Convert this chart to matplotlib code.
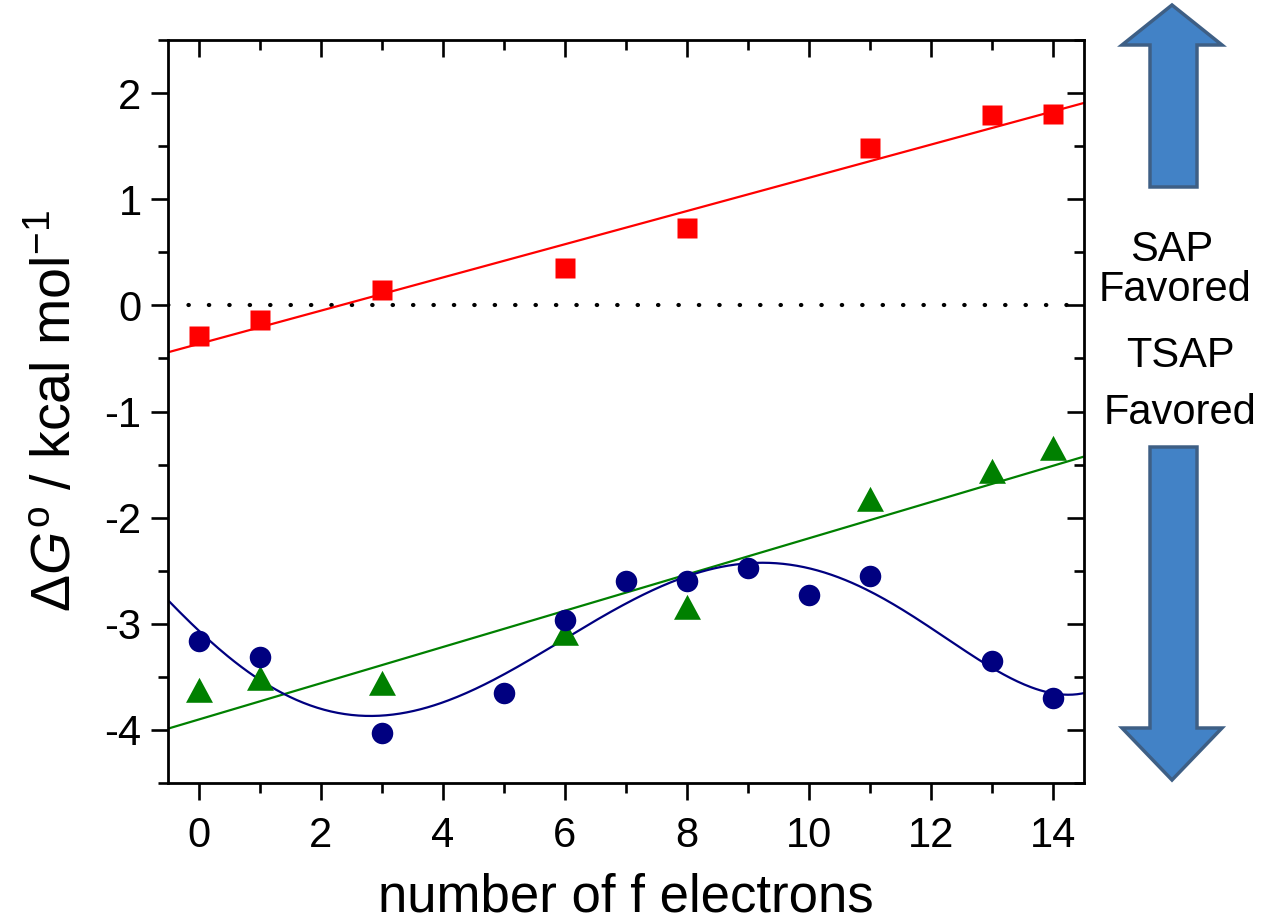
import numpy as np
import matplotlib.pyplot as plt
from matplotlib.patches import Polygon
from matplotlib.path import Path
from matplotlib.ticker import MultipleLocator

plt.rcParams['font.family'] = ['Liberation Sans', 'DejaVu Sans']
plt.rcParams['mathtext.fontset'] = 'custom'
plt.rcParams['mathtext.rm'] = 'Liberation Sans'
plt.rcParams['mathtext.it'] = 'Liberation Sans:italic'
plt.rcParams['axes.unicode_minus'] = False

# free energy difference vs. number of f electrons
x_red = [0, 1, 3, 6, 8, 11, 13, 14]
y_red = [-0.29, -0.14, 0.14, 0.35, 0.73, 1.48, 1.79, 1.80]
x_green = [0, 1, 3, 6, 8, 11, 13, 14]
y_green = [-3.66, -3.55, -3.60, -3.12, -2.88, -1.86, -1.60, -1.38]
x_blue = [0, 1, 3, 5, 6, 7, 8, 9, 10, 11, 13, 14]
y_blue = [-3.16, -3.31, -4.03, -3.65, -2.96, -2.60, -2.60, -2.47, -2.73, -2.55, -3.35, -3.70]

W, H = 1266, 923
fig = plt.figure(figsize=(W / 100, H / 100), dpi=100)
rect = [168 / W, 1 - 783 / H, (1084 - 168) / W, (783 - 40) / H]
ax = fig.add_axes(rect)

xx = np.linspace(-0.5, 14.5, 400)
# linear fits for red and green, 5th order polynomial for blue
ax.plot(xx, np.polyval(np.polyfit(x_red, y_red, 1), xx), color='#ff0000', lw=1.6)
ax.plot(xx, np.polyval(np.polyfit(x_green, y_green, 1), xx), color='#008000', lw=1.6)
ax.plot(xx, np.polyval(np.polyfit(x_blue, y_blue, 5), xx), color='#000080', lw=1.6)

ax.axhline(0, color='black', lw=3, linestyle=(0, (0.1, 4.8)), dash_capstyle='round', zorder=1)

# triangle centred on its centroid
tri = Path([(0, 16.7), (-13.5, -8.3), (13.5, -8.3), (0, 16.7)],
           [Path.MOVETO, Path.LINETO, Path.LINETO, Path.CLOSEPOLY])

ax.plot(x_red, y_red, 's', color='#ff0000', ms=14.5, mec='none')
ax.plot(x_green, y_green, marker=tri, ls='none', color='#008000', ms=24, mec='none')
ax.plot(x_blue, y_blue, 'o', color='#000080', ms=15.5, mec='none')

ax.set_xlim(-0.5, 14.5)
ax.set_ylim(-4.5, 2.5)
ax.xaxis.set_major_locator(MultipleLocator(2))
ax.xaxis.set_minor_locator(MultipleLocator(1))
ax.yaxis.set_major_locator(MultipleLocator(1))
ax.yaxis.set_minor_locator(MultipleLocator(0.5))
ax.set_yticks([-4, -3, -2, -1, 0, 1, 2])

for s in ax.spines.values():
    s.set_linewidth(2)
ax.tick_params(which='both', direction='out', width=1.9, labelsize=30,
               top=False, right=False)
ax.tick_params(axis='x', pad=12)
ax.tick_params(axis='y', pad=7)
ax.tick_params(which='major', length=12)
ax.tick_params(which='minor', length=7)

# inward ticks along top and right on an overlay axes
ov = fig.add_axes(rect, sharex=ax, sharey=ax)
ov.patch.set_visible(False)
for s in ov.spines.values():
    s.set_visible(False)
ov.tick_params(which='both', direction='in', width=1.9, top=True, right=True,
               bottom=False, left=False, labelbottom=False, labelleft=False)
ov.tick_params(which='major', length=12)
ov.tick_params(which='minor', length=7)

ax.set_xlabel('number of f electrons', fontsize=38, labelpad=12)
ax.set_ylabel(r'$\mathit{ΔG}^{\mathrm{o}}$ / kcal mol$^{\mathrm{-1}}$', fontsize=40, labelpad=16)


def fpt(px, py):
    return px / W, 1 - py / H


face, edge = '#4282c6', '#3e5f85'
up = [(1172, 5), (1222, 45), (1197, 45), (1197, 187), (1150, 187), (1150, 45), (1122, 45)]
down = [(1150, 447), (1197, 447), (1197, 728), (1222, 728), (1172, 780), (1122, 728), (1150, 728)]
for pts in (up, down):
    fig.add_artist(Polygon([fpt(*p) for p in pts], closed=True, facecolor=face,
                           edgecolor=edge, lw=2.5, transform=fig.transFigure))

fig.text(*fpt(1172, 250), 'SAP', fontsize=30, ha='center', va='center')
fig.text(*fpt(1175, 290), 'Favored', fontsize=30, ha='center', va='center')
fig.text(*fpt(1180, 356), 'TSAP', fontsize=30, ha='center', va='center')
fig.text(*fpt(1180, 413), 'Favored', fontsize=30, ha='center', va='center')

fig.savefig('out.png')
